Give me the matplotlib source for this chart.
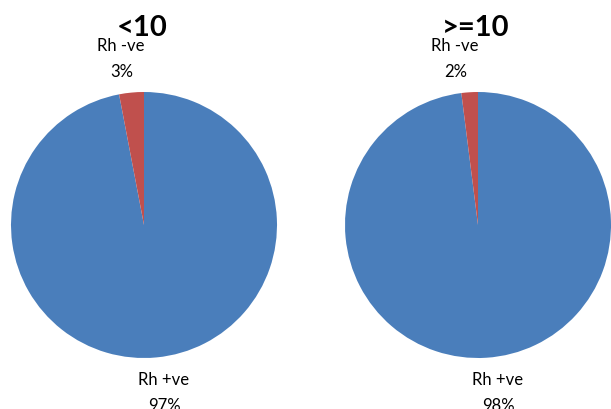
import matplotlib.pyplot as plt

# Rh factor share by age group
groups = ['<10', '>=10']
categories = ['Rh +ve', 'Rh -ve']
values = {'<10': [97, 3], '>=10': [98, 2]}
colors = ['#4a7ebb', '#c0504d']

W, H = 611, 409
plt.rcParams['font.family'] = ['Lato', 'DejaVu Sans']

fig = plt.figure(figsize=(W / 100, H / 100), dpi=100)

# pie centres in pixels (x, y from top), radius
centres = [(144, 225), (478, 225)]
r = 133

for g, (cx, cy) in zip(groups, centres):
    ax = fig.add_axes([(cx - r) / W, (H - cy - r) / H, 2 * r / W, 2 * r / H])
    ax.pie(values[g], colors=colors, startangle=90, counterclock=False,
           radius=1, wedgeprops=dict(linewidth=0))
    ax.set_xlim(-1, 1)
    ax.set_ylim(-1, 1)
    ax.set_aspect('equal')
    ax.axis('off')

    fig.text((cx - 2) / W, 1 - 28 / H, g, ha='center', va='center',
             fontsize=21, fontweight='bold')
    # Rh -ve label on top, Rh +ve label below
    fig.text((cx - 23) / W, 1 - 46 / H, categories[1], ha='center', va='center', fontsize=12)
    fig.text((cx - 22) / W, 1 - 72 / H, f'{values[g][1]}%', ha='center', va='center', fontsize=12)
    fig.text((cx + 20) / W, 1 - 380 / H, categories[0], ha='center', va='center', fontsize=12)
    fig.text((cx + 20) / W, 1 - 406 / H, f'{values[g][0]}%', ha='center', va='center', fontsize=12)

fig.savefig('out.png', dpi=100)
